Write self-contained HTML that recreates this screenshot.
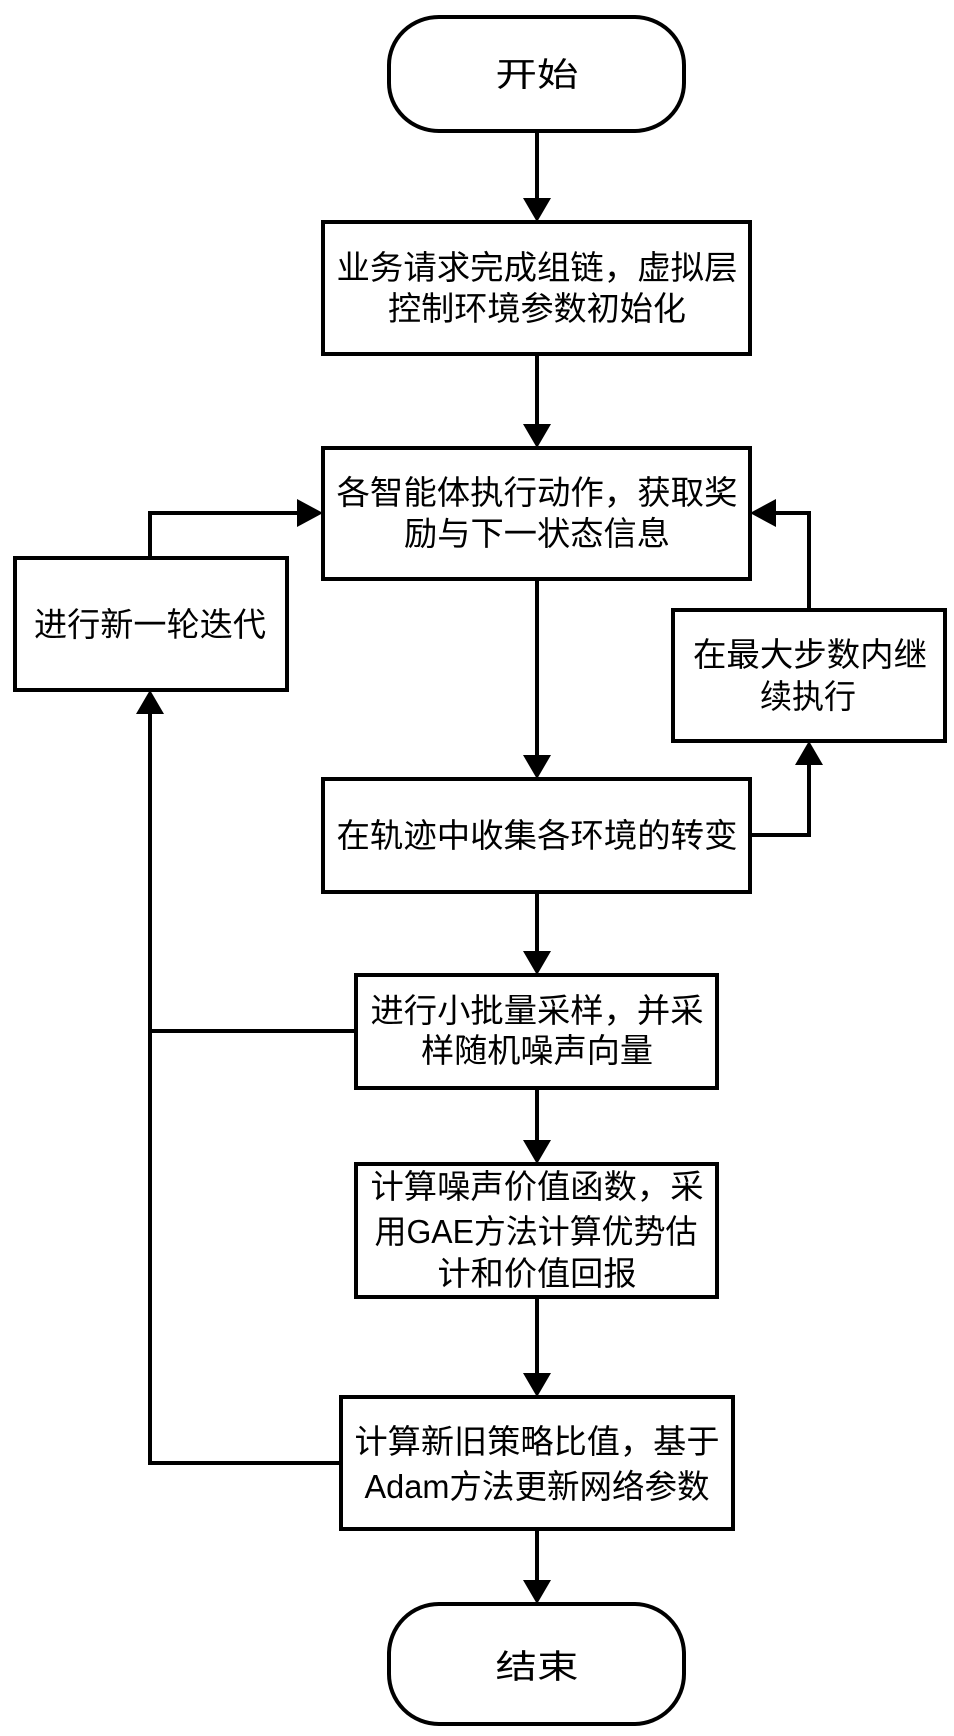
<!DOCTYPE html>
<html><head><meta charset="utf-8"><style>
html,body{margin:0;padding:0;background:#fff}
svg{display:block}
text{font-family:"Liberation Sans","Noto Sans CJK SC",sans-serif;font-size:33px;fill:#000}
</style></head><body>
<svg width="954" height="1736" viewBox="0 0 954 1736" xmlns="http://www.w3.org/2000/svg">
<g fill="none" stroke="#000" stroke-width="4">
<rect x="389" y="17" width="295" height="114" rx="50" ry="48"/>
<rect x="323" y="222" width="427" height="132"/>
<rect x="323" y="448" width="427" height="131"/>
<rect x="15" y="558" width="272" height="132"/>
<rect x="673" y="610" width="272" height="131"/>
<rect x="323" y="779" width="427" height="113"/>
<rect x="356" y="975" width="361" height="113"/>
<rect x="356" y="1164" width="361" height="133"/>
<rect x="341" y="1397" width="392" height="132"/>
<rect x="389" y="1604" width="295" height="120" rx="50" ry="50"/>
<path d="M537 131V198M537 354V424M537 579V755M537 892V951M537 1088V1140M537 1297V1373M537 1529V1580"/>
<path d="M150 558V513H299"/>
<path d="M341 1463H150V714"/>
<path d="M356 1031H150"/>
<path d="M750 835H809V765"/>
<path d="M809 610V513H774"/>
</g>
<g fill="#000">
<polygon points="523,198 551,198 537,222"/>
<polygon points="523,424 551,424 537,448"/>
<polygon points="523,755 551,755 537,779"/>
<polygon points="523,951 551,951 537,975"/>
<polygon points="523,1140 551,1140 537,1164"/>
<polygon points="523,1373 551,1373 537,1397"/>
<polygon points="523,1580 551,1580 537,1604"/>
<polygon points="297,499 297,527 323,513"/>
<polygon points="776,499 776,527 750,513"/>
<polygon points="136,714 164,714 150,690"/>
<polygon points="795,765 823,765 809,741"/>
</g>
<g text-anchor="middle">
<text x="537" y="86" font-size="42" textLength="83" lengthAdjust="spacingAndGlyphs">开始</text>
<text x="537" y="279" textLength="401" lengthAdjust="spacingAndGlyphs">业务请求完成组链，虚拟层</text>
<text x="537" y="320" textLength="298" lengthAdjust="spacingAndGlyphs">控制环境参数初始化</text>
<text x="537" y="504" textLength="401" lengthAdjust="spacingAndGlyphs">各智能体执行动作，获取奖</text>
<text x="537" y="545" textLength="266" lengthAdjust="spacingAndGlyphs">励与下一状态信息</text>
<text x="150" y="636" textLength="232" lengthAdjust="spacingAndGlyphs">进行新一轮迭代</text>
<text x="810" y="666" textLength="234" lengthAdjust="spacingAndGlyphs">在最大步数内继</text>
<text x="808" y="708" textLength="96" lengthAdjust="spacingAndGlyphs">续执行</text>
<text x="537" y="847" textLength="401" lengthAdjust="spacingAndGlyphs">在轨迹中收集各环境的转变</text>
<text x="537" y="1022" textLength="333" lengthAdjust="spacingAndGlyphs">进行小批量采样，并采</text>
<text x="537" y="1062" textLength="232" lengthAdjust="spacingAndGlyphs">样随机噪声向量</text>
<text x="537" y="1198" textLength="333" lengthAdjust="spacingAndGlyphs">计算噪声价值函数，采</text>
<text x="536" y="1243" textLength="323" lengthAdjust="spacingAndGlyphs">用GAE方法计算优势估</text>
<text x="537" y="1285" textLength="199" lengthAdjust="spacingAndGlyphs">计和价值回报</text>
<text x="537" y="1453" textLength="365" lengthAdjust="spacingAndGlyphs">计算新旧策略比值，基于</text>
<text x="537" y="1498" textLength="345" lengthAdjust="spacingAndGlyphs">Adam方法更新网络参数</text>
<text x="537" y="1678" font-size="42" textLength="83" lengthAdjust="spacingAndGlyphs">结束</text>
</g>
</svg>
</body></html>
